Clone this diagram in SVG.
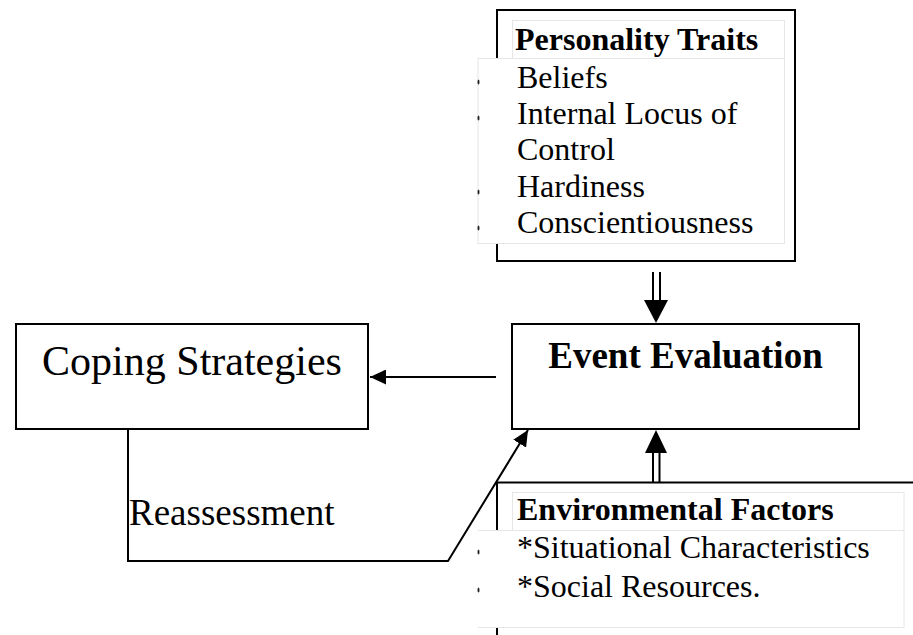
<svg xmlns="http://www.w3.org/2000/svg" width="913" height="635" viewBox="0 0 913 635">
<style>
.box{fill:#fff;stroke:#000;stroke-width:2}
.pane{fill:#fff;stroke:#e6e6e6;stroke-width:1}
.ln{fill:none;stroke:#000;stroke-width:2}
.t{font-family:"Liberation Serif","Times New Roman",serif;fill:#000}
.b{font-weight:bold}
.bul{fill:#222}
</style>
<defs>
<marker id="ah" markerWidth="16" markerHeight="15" refX="16" refY="7.5" orient="auto" markerUnits="userSpaceOnUse">
<path d="M0,0 L16,7.5 L0,15 Z" fill="#000"/>
</marker>
</defs>
<rect width="913" height="635" fill="#fff"/>

<g id="personality-traits">
<rect class="box" x="497" y="10" width="298" height="251"/>
<rect class="pane" x="512.5" y="20.5" width="272" height="38"/>
<rect class="pane" x="478" y="58.5" width="306.5" height="185" stroke="none"/>
<path d="M478,58.5 H784.5 V243.5 H478" fill="none" stroke="#e6e6e6"/>
<text class="t b" x="515" y="50" font-size="32">Personality Traits</text>
<g class="t" font-size="32">
<text x="517" y="88">Beliefs</text>
<text x="517" y="124">Internal Locus of</text>
<text x="517" y="160">Control</text>
<text x="517" y="197">Hardiness</text>
<text x="517" y="233">Conscientiousness</text>
</g>
<ellipse class="bul" cx="478.5" cy="82" rx="1" ry="2.5"/>
<ellipse class="bul" cx="478.5" cy="118" rx="1" ry="2.5"/>
<ellipse class="bul" cx="478.5" cy="192" rx="1" ry="2.5"/>
<ellipse class="bul" cx="478.5" cy="228" rx="1" ry="2.5"/>
</g>

<g id="event-evaluation">
<rect class="box" x="512" y="324" width="347" height="105"/>
<text class="t b" x="685.5" y="368" font-size="37" text-anchor="middle">Event Evaluation</text>
</g>

<g id="coping-strategies">
<rect class="box" x="16" y="324" width="352" height="105"/>
<text class="t" x="192" y="375" font-size="42" text-anchor="middle">Coping Strategies</text>
</g>

<g id="environmental-factors">
<path class="ln" d="M497,635 V482.5 H913"/>
<rect class="pane" x="512.5" y="492.5" width="391.5" height="38"/>
<rect x="478" y="530.5" width="426" height="97" fill="#fff"/>
<path d="M478,530.5 H904 V627.5 H478" fill="none" stroke="#e6e6e6"/>
<text class="t b" x="517" y="520" font-size="32">Environmental Factors</text>
<g class="t" font-size="32">
<text x="517" y="558">*Situational Characteristics</text>
<text x="517" y="597">*Social Resources.</text>
</g>
<ellipse class="bul" cx="478.5" cy="552" rx="1" ry="2.5"/>
<ellipse class="bul" cx="478.5" cy="590" rx="1" ry="2.5"/>
</g>

<g id="connectors">
<path class="ln" d="M496,377 H370" marker-end="url(#ah)"/>
<path class="ln" d="M128,429 V561 H448 L528,430" marker-end="url(#ah)"/>
<text class="t" x="129" y="525" font-size="37">Reassessment</text>
<path d="M653,272 V301 M660,272 V301" stroke="#000" stroke-width="2" fill="none"/>
<path d="M644,300 L668,300 L656,323 Z" fill="#000"/>
<path d="M653,482 V452 M659.5,482 V452" stroke="#000" stroke-width="2" fill="none"/>
<path d="M645,453 L667,453 L656,430 Z" fill="#000"/>
</g>
</svg>
